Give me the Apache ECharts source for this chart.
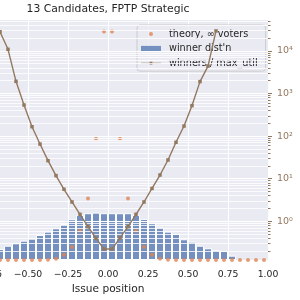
<!DOCTYPE html>
<html>
<head>
<meta charset="utf-8">
<script src="https://cdn.jsdelivr.net/npm/echarts@6/dist/echarts.min.js"></script>
<style>html,body{margin:0;padding:0;background:#fff;}#c{width:300px;height:300px;}</style>
</head>
<body>
<div id="c"></div>
<script>
// bin centres (issue position)
const binCenters = [-0.975,-0.925,-0.875,-0.825,-0.775,-0.725,-0.675,-0.625,-0.575,-0.525,-0.475,-0.425,-0.375,-0.325,-0.275,-0.225,-0.175,-0.125,-0.075,-0.025,
  0.025,0.075,0.125,0.175,0.225,0.275,0.325,0.375,0.425,0.475,0.525,0.575,0.625,0.675,0.725,0.775,0.825,0.875,0.925,0.975];
// winner distribution (density, left linear axis)
const winnerDist = [0,0,0,0,0.091,0.182,0.250,0.325,0.380,0.439,0.485,0.569,0.644,0.721,0.819,0.926,1.024,1.063,1.076,1.063,
  1.063,1.063,1.063,1.024,0.933,0.835,0.744,0.644,0.592,0.471,0.416,0.325,0.266,0.228,0.205,0.098,0,0,0,0];
// theory, infinite voters (density, left linear axis)
const theory = [0,0,0,0,0,0,0,0,0,0.0002,0.0005,0.002,0.007,0.030,0.121,0.296,0.667,1.395,2.754,5.19,
  5.19,2.754,1.395,0.667,0.296,0.121,0.030,0.007,0.002,0.0005,0.0002,0,0,0,0,0,0,0,0,0];
// winners / max_util (right log axis)
const utilX = [-0.675,-0.625,-0.575,-0.525,-0.475,-0.425,-0.375,-0.325,-0.275,-0.225,-0.175,-0.125,-0.075,-0.025,
  0.025,0.075,0.125,0.175,0.225,0.275,0.325,0.375,0.425,0.475,0.525,0.575,0.625,0.675];
const utilY = [28200,10900,1930,537,166,65,26.5,11.8,5.64,2.84,1.46,0.75,0.40,0.223,
  0.223,0.41,0.75,1.46,2.84,5.9,12.2,27.5,71.6,172,520,1900,4400,29400];
// right axis tick exponents and labels
const logMajorExp = [0,1,2,3,4];
const logMajorLabels = ['10\u2070','10\u00B9','10\u00B2','10\u00B3','10\u2074'];
const logMinorMult = [2,3,4,5,6,7,8,9];
const logRange = [0.1235, 53100];
const xTickInterval = 0.25;

const FONT = 'DejaVu Sans';
const lmin = Math.log10(logRange[0]), lmax = Math.log10(logRange[1]);
const minorVals = [];
for (let e = -1; e <= 4; e++) for (const m of logMinorMult) {
  const v = Math.log10(m) + e; if (v > lmin && v < lmax) minorVals.push(v);
}
const chart = echarts.init(document.getElementById('c'), null, {renderer: 'canvas'});
chart.setOption({
  animation: false,
  backgroundColor: '#ffffff',
  title: {text: '13 Candidates, FPTP Strategic', left: 108, top: 4, textAlign: 'center', padding: 0,
    textStyle: {fontFamily: FONT, fontSize: 10.8, fontWeight: 'normal', color: '#262626'}},
  grid: {left: -52, right: 32, top: 20, bottom: 40, show: true, backgroundColor: '#EAEAF2', borderWidth: 0,
    containLabel: false, outerBoundsMode: 'none'},
  legend: {
    orient: 'vertical', left: 137, top: 25, padding: [4, 8, 3, 4], itemWidth: 20, itemHeight: 10, itemGap: 4.6,
    backgroundColor: 'rgba(234,234,242,0.8)', borderColor: '#cccccc', borderWidth: 1, borderRadius: 3, z: 3,
    textStyle: {fontFamily: FONT, fontSize: 9.7, color: '#262626', padding: [0, 0, 0, 3]},
    itemStyle: {borderWidth: 0},
    data: [
      {name: 'theory, \u221E voters', icon: 'path://M0,0 M20,10 M8,5 A2,2 0 1,0 12,5 A2,2 0 1,0 8,5 Z'},
      {name: "winner dist'n", icon: 'path://M0,0 M20,10 M0,2.3 L20,2.3 L20,7.7 L0,7.7 Z'},
      {name: 'winners / max_util', icon: 'path://M0,0 M20,10 M0,4.6 L20,4.6 L20,5.4 L0,5.4 Z M8.6,3.6 L11.4,3.6 L11.4,6.4 L8.6,6.4 Z'}
    ]
  },
  xAxis: {
    type: 'value', min: -1, max: 1, interval: xTickInterval,
    name: 'Issue position', nameLocation: 'middle', nameGap: 23,
    nameTextStyle: {fontFamily: FONT, fontSize: 10.6, color: '#262626'},
    axisLine: {show: false}, axisTick: {show: false},
    axisLabel: {fontFamily: FONT, fontSize: 9.3, color: '#262626', margin: 10,
      formatter: v => (v < 0 ? '\u2212' : '') + Math.abs(v).toFixed(2)},
    splitLine: {show: true, lineStyle: {color: '#ffffff', width: 1}}
  },
  yAxis: [
    {type: 'value', min: 0, max: 5.45, show: false, splitLine: {show: false}},
    {type: 'value', position: 'right', min: lmin, max: lmax, z: 4,
      axisLine: {show: false},
      axisTick: {show: true, customValues: logMajorExp, length: 4, lineStyle: {color: '#937860', width: 1}},
      axisLabel: {customValues: logMajorExp, margin: 9, fontFamily: FONT, fontSize: 9.5, color: '#937860',
        formatter: v => logMajorLabels[logMajorExp.indexOf(Math.round(v))]},
      splitLine: {show: true, lineStyle: {color: '#ffffff', width: 1}}},
    {type: 'value', position: 'right', min: lmin, max: lmax, z: 4,
      axisLine: {show: false},
      axisTick: {show: true, customValues: minorVals, length: 2.5, lineStyle: {color: '#937860', width: 1}},
      axisLabel: {show: false},
      splitLine: {show: true, lineStyle: {color: '#ffffff', width: 0.8}}}
  ],
  series: [
    {name: "winner dist'n", type: 'bar', yAxisIndex: 0, barWidth: '100%', z: 2,
      itemStyle: {color: 'rgba(76,114,176,0.75)', borderColor: '#ffffff', borderWidth: 1},
      data: binCenters.map((x, i) => [x, winnerDist[i] > 0 ? winnerDist[i] : null])},
    {name: 'theory, \u221E voters', type: 'scatter', yAxisIndex: 0, symbol: 'circle', symbolSize: 4, z: 2,
      itemStyle: {color: '#DD8452'},
      data: binCenters.map((x, i) => [x, theory[i]])},
    {name: 'winners / max_util', type: 'line', yAxisIndex: 1, z: 6, symbol: 'rect', symbolSize: 3.5,
      itemStyle: {color: '#937860'}, lineStyle: {color: '#937860', width: 1.4},
      data: utilX.map((x, i) => [x, Math.log10(utilY[i])])}
  ]
});
</script>
</body>
</html>
